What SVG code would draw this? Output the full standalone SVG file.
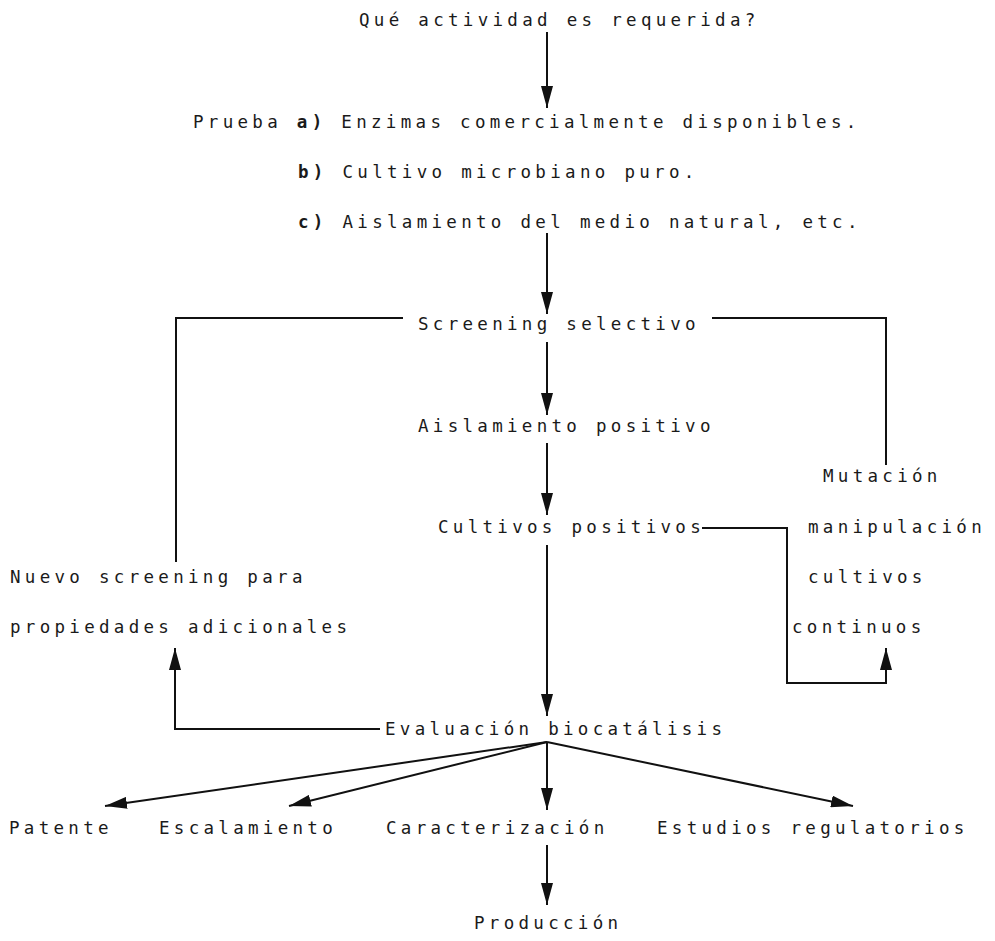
<svg xmlns="http://www.w3.org/2000/svg" width="995" height="941" viewBox="0 0 995 941">
<style>
text{font-family:"DejaVu Sans Mono","Liberation Mono",monospace;font-size:17.5px;letter-spacing:4.3px;fill:#1a1a1a}
.b{font-weight:bold}
.ln{fill:none;stroke:#111;stroke-width:2}
</style>
<defs>
<marker id="ah" markerUnits="userSpaceOnUse" markerWidth="22" markerHeight="12" refX="22" refY="6" orient="auto">
<path d="M0,0 L22,6 L0,12 z" fill="#111"/>
</marker>
</defs>
<rect width="995" height="941" fill="#fff"/>
<g id="connectors">
<path class="ln" d="M547,32 V108" marker-end="url(#ah)"/>
<path class="ln" d="M547,233 V314" marker-end="url(#ah)"/>
<path class="ln" d="M547,342 V415" marker-end="url(#ah)"/>
<path class="ln" d="M547,443 V515" marker-end="url(#ah)"/>
<path class="ln" d="M547,545 V716" marker-end="url(#ah)"/>
<path class="ln" d="M403,318 H176 V562"/>
<path class="ln" d="M712,318 H886 V465"/>
<path class="ln" d="M702,528 H787 V683 H886 V648" marker-end="url(#ah)"/>
<path class="ln" d="M380,729 H175 V648" marker-end="url(#ah)"/>
<path class="ln" d="M547,742 L105,806" marker-end="url(#ah)"/>
<path class="ln" d="M547,742 L289,806" marker-end="url(#ah)"/>
<path class="ln" d="M547,742 V810" marker-end="url(#ah)"/>
<path class="ln" d="M547,742 L853,806" marker-end="url(#ah)"/>
<path class="ln" d="M547,845 V905" marker-end="url(#ah)"/>
</g>
<g id="q"><text x="359" y="26">Qué actividad es requerida?</text></g>
<g id="prueba"><text x="193" y="128">Prueba <tspan class="b">a)</tspan> Enzimas comercialmente disponibles.</text></g>
<g id="b"><text x="298" y="178"><tspan class="b">b)</tspan> Cultivo microbiano puro.</text></g>
<g id="c"><text x="298" y="228"><tspan class="b">c)</tspan> Aislamiento del medio natural, etc.</text></g>
<g id="screening"><text x="418" y="330">Screening selectivo</text></g>
<g id="aislamiento"><text x="418" y="432">Aislamiento positivo</text></g>
<g id="cultivos"><text x="438" y="533">Cultivos positivos</text></g>
<g id="mutacion"><text x="823" y="482">Mutación</text><text x="808" y="533">manipulación</text><text x="808" y="583">cultivos</text><text x="792" y="633">continuos</text></g>
<g id="nuevo"><text x="10" y="583">Nuevo screening  para</text><text x="10" y="633">propiedades adicionales</text></g>
<g id="evaluacion"><text x="385" y="735">Evaluación biocatálisis</text></g>
<g id="patente"><text x="9" y="834">Patente</text></g>
<g id="escalamiento"><text x="159" y="834">Escalamiento</text></g>
<g id="caracterizacion"><text x="386" y="834">Caracterización</text></g>
<g id="estudios"><text x="657" y="834">Estudios regulatorios</text></g>
<g id="produccion"><text x="474" y="929">Producción</text></g>
</svg>
